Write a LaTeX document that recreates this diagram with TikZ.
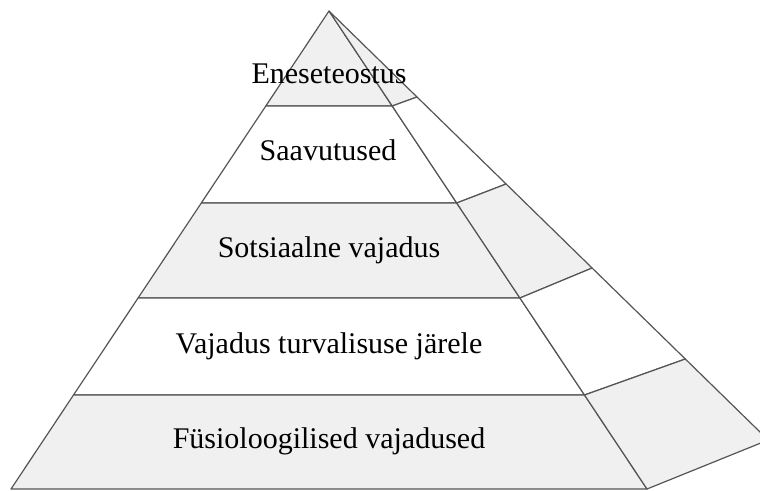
\documentclass[tikz,border=0pt]{standalone}
\usepackage{fontspec}
\setmainfont{Liberation Serif}
\definecolor{bandgray}{RGB}{240,240,240}
\definecolor{edge}{RGB}{85,85,85}
\begin{document}
\begin{tikzpicture}[x=1pt,y=-1pt,
  graypart/.style={fill=bandgray,draw=edge,line width=1.2pt,line join=round},
  whitepart/.style={fill=white,draw=edge,line width=1.2pt,line join=round},
  lbl/.style={anchor=base,inner sep=0pt,font=\fontsize{30}{36}\selectfont,text=black}]
\useasboundingbox (0,0) rectangle (760,490);
\clip (0,0) rectangle (760,490);
% key points
\coordinate (A) at (329,11);
\coordinate (L1) at (265.8,106); \coordinate (R1) at (392.2,106); \coordinate (B1) at (417.0,97);
\coordinate (L2) at (201.3,203); \coordinate (R2) at (456.7,203); \coordinate (B2) at (506.1,184);
\coordinate (L3) at (138.1,298); \coordinate (R3) at (519.9,298); \coordinate (B3) at (592.1,268);
\coordinate (L4) at (73.5,395);  \coordinate (R4) at (584.5,395); \coordinate (B4) at (685.3,359);
\coordinate (L5) at (11,489);    \coordinate (R5) at (647,489);   \coordinate (B5) at (768.2,440);
% front face bands
\draw[graypart]  (A) -- (R1) -- (L1) -- cycle;
\draw[whitepart] (L1) -- (R1) -- (R2) -- (L2) -- cycle;
\draw[graypart]  (L2) -- (R2) -- (R3) -- (L3) -- cycle;
\draw[whitepart] (L3) -- (R3) -- (R4) -- (L4) -- cycle;
\draw[graypart]  (L4) -- (R4) -- (R5) -- (L5) -- cycle;
% side face bands
\draw[graypart]  (A) -- (B1) -- (R1) -- cycle;
\draw[whitepart] (R1) -- (B1) -- (B2) -- (R2) -- cycle;
\draw[graypart]  (R2) -- (B2) -- (B3) -- (R3) -- cycle;
\draw[whitepart] (R3) -- (B3) -- (B4) -- (R4) -- cycle;
\draw[graypart]  (R4) -- (B4) -- (B5) -- (R5) -- cycle;
% labels
\node[lbl] (t1) at (329,83)  {Eneseteostus};
\node[lbl] (t2) at (328,160) {Saavutused};
\node[lbl] (t3) at (329,257) {Sotsiaalne vajadus};
\node[lbl] (t4) at (329,353) {Vajadus turvalisuse järele};
\node[lbl] (t5) at (329,448) {Füsioloogilised vajadused};
\end{tikzpicture}
\end{document}
